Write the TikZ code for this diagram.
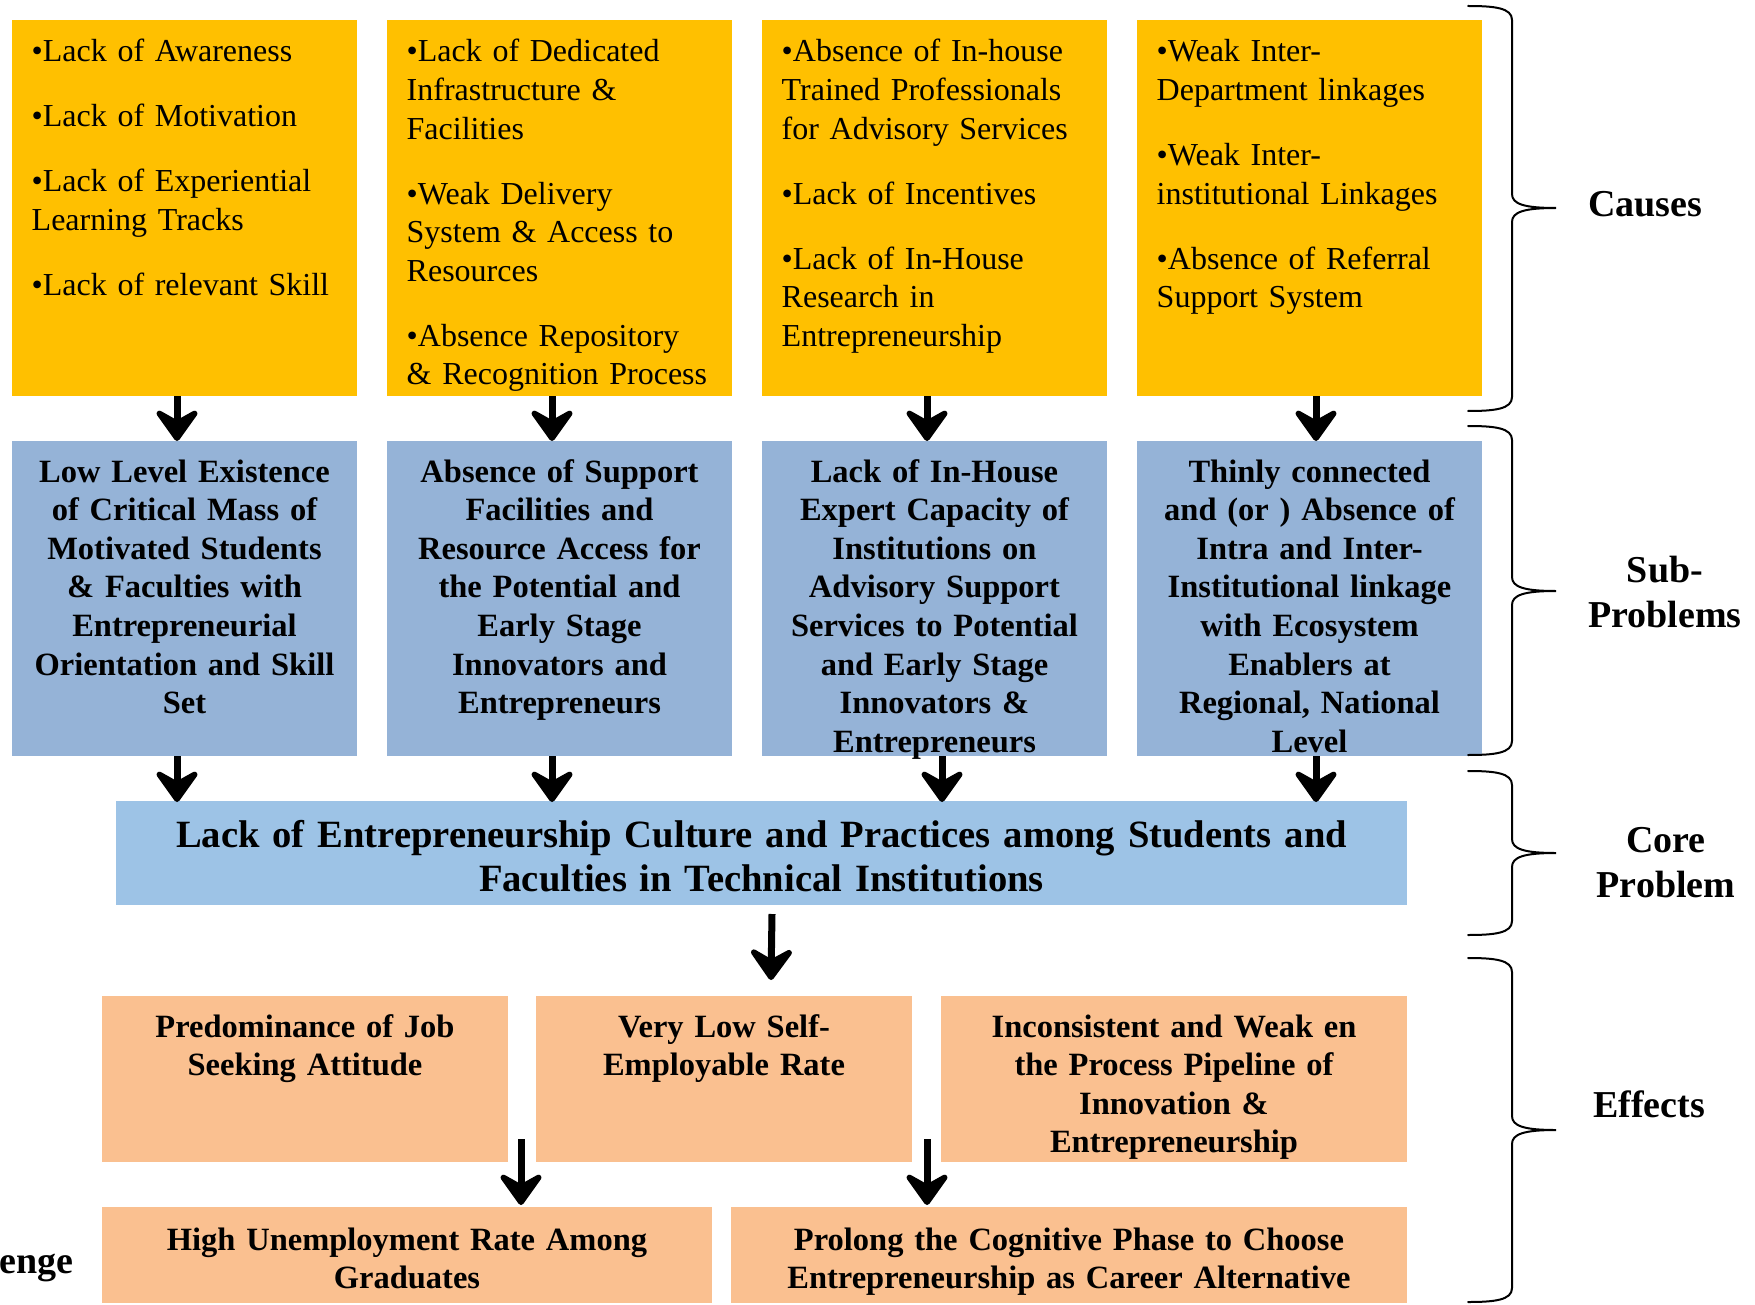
\documentclass[tikz,border=0pt]{standalone}
\usepackage{fontspec}
\setmainfont{Liberation Serif}
\usetikzlibrary{arrows.meta}
\definecolor{cgold}{HTML}{FFC000}
\definecolor{cblue}{HTML}{95B3D7}
\definecolor{ccore}{HTML}{9DC3E6}
\definecolor{corange}{HTML}{FAC090}
\begin{document}
\begin{tikzpicture}[x=1pt,y=-1pt,
  box/.style={draw=none,inner sep=0pt,outer sep=0pt},
  causebox/.style={box,fill=cgold,minimum width=345pt,minimum height=376pt},
  subbox/.style={box,fill=cblue,minimum width=345pt,minimum height=315pt},
  effbox/.style={box,fill=corange},
  causetext/.style={anchor=base west,inner sep=0pt,text width=340pt,align=left,font=\fontsize{32}{38.6}\selectfont},
  subtext/.style={anchor=base,inner sep=0pt,text width=340pt,align=center,font=\bfseries\fontsize{32.5}{38.6}\selectfont},
  efftext/.style={anchor=base,inner sep=0pt,text width=660pt,align=center,font=\bfseries\fontsize{32.5}{38.6}\selectfont},
  lblfont/.style={inner sep=0pt,font=\bfseries\fontsize{38}{45}\selectfont},
  lbl/.style={lblfont,anchor=base,text width=200pt,align=center},
  arr/.style={line width=7pt,-{Stealth[length=38pt,width=54pt,inset=15pt,round]}},
  bracestyle/.style={line width=2pt,line cap=round}
]
\useasboundingbox (0,0) rectangle (1755,1305);

% causes
\node[causebox] (y1) at (184.5,208) {};
\node[causebox] (y2) at (559.5,208) {};
\node[causebox] (y3) at (934.5,208) {};
\node[causebox] (y4) at (1309.5,208) {};
\node[causetext] (ty1) at (31.5,62) {•Lack of Awareness\\[26.4pt]•Lack of Motivation\\[26.4pt]•Lack of Experiential\\Learning Tracks\\[26.4pt]•Lack of relevant Skill};
\node[causetext] (ty2) at (406.5,62) {•Lack of Dedicated\\Infrastructure \&\\Facilities\\[26.4pt]•Weak Delivery\\System \& Access to\\Resources\\[26.4pt]•Absence Repository\\\& Recognition Process};
\node[causetext] (ty3) at (781.5,62) {•Absence of In-house\\Trained Professionals\\for Advisory Services\\[26.4pt]•Lack of Incentives\\[26.4pt]•Lack of In-House\\Research in\\Entrepreneurship};
\node[causetext] (ty4) at (1156.5,62) {•Weak Inter-\\Department linkages\\[26.4pt]•Weak Inter-\\institutional Linkages\\[26.4pt]•Absence of Referral\\Support System};

% sub-problems
\node[subbox] (b1) at (184.5,598.5) {};
\node[subbox] (b2) at (559.5,598.5) {};
\node[subbox] (b3) at (934.5,598.5) {};
\node[subbox] (b4) at (1309.5,598.5) {};
\node[subtext] (tb1) at (184.5,482) {Low Level Existence\\of Critical Mass of\\Motivated Students\\\& Faculties with\\Entrepreneurial\\Orientation and Skill\\Set};
\node[subtext] (tb2) at (559.5,482) {Absence of Support\\Facilities and\\Resource Access for\\the Potential and\\Early Stage\\Innovators and\\Entrepreneurs};
\node[subtext] (tb3) at (934.5,482) {Lack of In-House\\Expert Capacity of\\Institutions on\\Advisory Support\\Services to Potential\\and Early Stage\\Innovators \&\\Entrepreneurs};
\node[subtext] (tb4) at (1309.5,482) {Thinly connected\\and (or ) Absence of\\Intra and Inter-\\Institutional linkage\\with Ecosystem\\Enablers at\\Regional, National\\Level};

% core
\node[box,fill=ccore,minimum width=1291pt,minimum height=104pt] (core) at (761.5,853) {};
\node[anchor=base,inner sep=0pt,text width=1285pt,align=center,font=\bfseries\fontsize{38.6}{44}\selectfont] (tcore) at (761.5,847) {Lack of Entrepreneurship Culture and Practices among Students and\\Faculties in Technical Institutions};

% effects
\node[effbox,minimum width=406pt,minimum height=166pt] (eA) at (305,1079) {};
\node[effbox,minimum width=376pt,minimum height=166pt] (eB) at (724,1079) {};
\node[effbox,minimum width=466pt,minimum height=166pt] (eC) at (1174,1079) {};
\node[effbox,minimum width=610pt,minimum height=96pt] (eD) at (407,1255) {};
\node[effbox,minimum width=676pt,minimum height=96pt] (eE) at (1069,1255) {};
\node[efftext] (teA) at (305,1037) {Predominance of Job\\Seeking Attitude};
\node[efftext] (teB) at (724,1037) {Very Low Self-\\Employable Rate};
\node[efftext] (teC) at (1174,1037) {Inconsistent and Weak en\\the Process Pipeline of\\Innovation \&\\Entrepreneurship};
\node[efftext] (teD) at (407,1250) {High Unemployment Rate Among\\Graduates};
\node[efftext] (teE) at (1069,1250) {Prolong the Cognitive Phase to Choose\\Entrepreneurship as Career Alternative};

% arrows
\draw[arr] ([xshift=-7.5pt]y1.south) -- ([xshift=-7.5pt]b1.north);
\draw[arr] ([xshift=-7.5pt]y2.south) -- ([xshift=-7.5pt]b2.north);
\draw[arr] ([xshift=-7.5pt]y3.south) -- ([xshift=-7.5pt]b3.north);
\draw[arr] ([xshift=6.5pt]y4.south) -- ([xshift=6.5pt]b4.north);
\draw[arr] ([xshift=-7.5pt]b1.south) -- ([xshift=-7.5pt,yshift=-1pt]b1.south |- core.north);
\draw[arr] ([xshift=-7.5pt]b2.south) -- ([xshift=-7.5pt,yshift=-1pt]b2.south |- core.north);
\draw[arr] ([xshift=7.5pt]b3.south) -- ([xshift=7.5pt,yshift=-1pt]b3.south |- core.north);
\draw[arr] ([xshift=6.5pt]b4.south) -- ([xshift=6.5pt,yshift=-1pt]b4.south |- core.north);
\draw[arr] ([xshift=10.5pt,yshift=-9pt]core.south) -- ([xshift=47pt,yshift=16pt]eB.north);
\draw[arr] ([xshift=13pt,yshift=23pt]eA.south east) -- ([xshift=114pt,yshift=2pt]eD.north);
\draw[arr] ([xshift=15pt,yshift=23pt]eB.south east) -- ([xshift=-142pt,yshift=2pt]eE.north);

% braces
\draw[bracestyle] (1468,6) .. controls (1495,6) and (1512,8) .. (1512,20) -- (1512,194) .. controls (1512,204) and (1524,208) .. (1556,208) .. controls (1524,208) and (1512,212) .. (1512,222) -- (1512,397) .. controls (1512,409) and (1495,411) .. (1468,411);
\draw[bracestyle] (1468,426) .. controls (1495,426) and (1512,428) .. (1512,440) -- (1512,577) .. controls (1512,587) and (1524,591) .. (1556,591) .. controls (1524,591) and (1512,595) .. (1512,605) -- (1512,741) .. controls (1512,753) and (1495,755) .. (1468,755);
\draw[bracestyle] (1468,771) .. controls (1495,771) and (1512,773) .. (1512,785) -- (1512,839) .. controls (1512,849) and (1524,853) .. (1556,853) .. controls (1524,853) and (1512,857) .. (1512,867) -- (1512,921) .. controls (1512,933) and (1495,935) .. (1468,935);
\draw[bracestyle] (1468,958) .. controls (1495,958) and (1512,960) .. (1512,972) -- (1512,1116) .. controls (1512,1126) and (1524,1130) .. (1556,1130) .. controls (1524,1130) and (1512,1134) .. (1512,1144) -- (1512,1288) .. controls (1512,1300) and (1495,1302) .. (1468,1302);

% labels
\node[lbl] (lcauses) at (1645,217) {Causes};
\node[lbl] (lsub) at (1665,582) {Sub-\\Problems};
\node[lbl] (lcore) at (1666,852) {Core\\Problem};
\node[lbl] (leff) at (1649,1117) {Effects};
\node[lblfont,anchor=base east] (lchal) at (74,1273) {enge};
\end{tikzpicture}
\end{document}
